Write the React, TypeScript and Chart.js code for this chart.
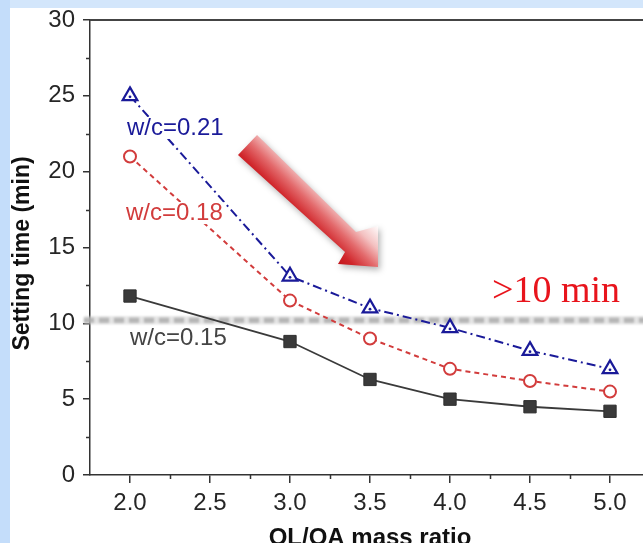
import React, { useEffect, useRef } from 'react';
import { Chart, registerables } from 'chart.js';

Chart.register(...registerables);

// OL/OA mass ratio (x) against setting time in minutes (y)
const massRatio = [2.0, 3.0, 3.5, 4.0, 4.5, 5.0];
const settingWc021 = [25.0, 13.1, 11.0, 9.7, 8.2, 7.0];
const settingWc018 = [21.0, 11.5, 9.0, 7.0, 6.2, 5.5];
const settingWc015 = [11.8, 8.8, 6.3, 5.0, 4.5, 4.2];
const seriesNames = ['w/c=0.21', 'w/c=0.18', 'w/c=0.15'];

const xTickValues = [2.0, 2.5, 3.0, 3.5, 4.0, 4.5, 5.0];
const yTickValues = [0, 5, 10, 15, 20, 25, 30];
const xMinorTicks = [2.25, 2.75, 3.25, 3.75, 4.25, 4.75];
const yMinorTicks = [2.5, 7.5, 12.5, 17.5, 22.5, 27.5];

const thresholdMinutes = 10.2;
const thresholdLabel = '>10 min';
const xAxisTitle = 'OL/OA mass ratio';
const yAxisTitle = 'Setting time (min)';

// Where the in-plot annotations sit, in axis units
const seriesLabelAnchors = [
  { x: 1.981, y: 22.88 },
  { x: 1.975, y: 17.27 },
  { x: 2.0, y: 9.03 },
];
const thresholdLabelAnchor = { x: 4.2625, y: 11.41 };
const trendArrow: [number, number][] = [
  [2.794, 22.42],
  [3.4125, 16.02],
  [3.55, 16.42],
  [3.55, 13.71],
  [3.3, 13.91],
  [3.344, 14.7],
  [2.675, 21.1],
];

const SANS = '"Liberation Sans", Arial, Helvetica, sans-serif';
const SERIF = '"Liberation Serif", "Times New Roman", serif';
const NAVY = '#1a1a99';
const RED = '#d23c3c';
const DARK = '#3a3a3a';

const CANVAS_W = 640;
const CANVAS_H = 560;
const PLOT_BOTTOM = 467;

const decorPlugin = {
  id: 'decor',
  beforeDraw(chart: any) {
    const ctx = chart.ctx;
    ctx.save();
    ctx.fillStyle = '#ffffff';
    ctx.fillRect(0, 0, chart.width, chart.height);
    ctx.restore();
  },
  beforeDatasetsDraw(chart: any) {
    const ctx = chart.ctx;
    const area = chart.chartArea;
    const xs = chart.scales.x;
    const ys = chart.scales.y;
    ctx.save();
    // minor ticks
    ctx.strokeStyle = '#333';
    ctx.lineWidth = 1.5;
    ctx.beginPath();
    xMinorTicks.forEach((v) => {
      const p = Math.round(xs.getPixelForValue(v)) + 0.5;
      ctx.moveTo(p, area.bottom);
      ctx.lineTo(p, area.bottom + 4);
    });
    yMinorTicks.forEach((v) => {
      const p = Math.round(ys.getPixelForValue(v)) + 0.5;
      ctx.moveTo(area.left - 4, p);
      ctx.lineTo(area.left, p);
    });
    ctx.stroke();
    // top frame line
    ctx.strokeStyle = '#444';
    ctx.lineWidth = 2;
    ctx.beginPath();
    ctx.moveTo(area.left, area.top);
    ctx.lineTo(chart.width, area.top);
    ctx.stroke();
    ctx.restore();

    // soft grey threshold band
    const yT = ys.getPixelForValue(thresholdMinutes);
    ctx.save();
    ctx.filter = 'blur(1.2px)';
    ctx.strokeStyle = 'rgba(210,210,210,0.6)';
    ctx.lineWidth = 8;
    ctx.beginPath();
    ctx.moveTo(area.left - 6, yT);
    ctx.lineTo(chart.width, yT);
    ctx.stroke();
    ctx.setLineDash([10, 5]);
    ctx.strokeStyle = 'rgba(172,172,172,0.85)';
    ctx.lineWidth = 5;
    ctx.beginPath();
    ctx.moveTo(area.left - 6, yT);
    ctx.lineTo(chart.width, yT);
    ctx.stroke();
    ctx.restore();
  },
  afterDatasetsDraw(chart: any) {
    const ctx = chart.ctx;
    const area = chart.chartArea;
    const xs = chart.scales.x;
    const ys = chart.scales.y;
    const toPx = (x: number, y: number): [number, number] => [xs.getPixelForValue(x), ys.getPixelForValue(y)];

    // centre dots inside the triangles
    ctx.save();
    ctx.fillStyle = NAVY;
    chart.getDatasetMeta(0).data.forEach((el: any) => {
      ctx.beginPath();
      ctx.arc(el.x, el.y + 1, 1.4, 0, Math.PI * 2);
      ctx.fill();
    });
    ctx.restore();

    // series labels
    const labelColors = [NAVY, RED, '#444'];
    ctx.save();
    ctx.font = `24px ${SANS}`;
    ctx.textBaseline = 'middle';
    ctx.textAlign = 'left';
    seriesNames.forEach((name, i) => {
      const [lx, ly] = toPx(seriesLabelAnchors[i].x, seriesLabelAnchors[i].y);
      const w = ctx.measureText(name).width;
      if (i < 2) {
        ctx.fillStyle = '#ffffff';
        ctx.fillRect(lx - 2, ly - 11, w + 3, 22);
      }
      ctx.fillStyle = labelColors[i];
      ctx.fillText(name, lx, ly);
    });
    ctx.restore();

    // threshold caption
    ctx.save();
    const [tx, ty] = toPx(thresholdLabelAnchor.x, thresholdLabelAnchor.y);
    ctx.font = `38px ${SERIF}`;
    ctx.fillStyle = '#e8141c';
    ctx.textBaseline = 'alphabetic';
    ctx.textAlign = 'left';
    ctx.fillText(thresholdLabel, tx, ty);
    ctx.restore();

    // downward trend arrow
    const pts = trendArrow.map(([x, y]) => toPx(x, y));
    const dx = pts[1][0] - pts[0][0];
    const dy = pts[1][1] - pts[0][1];
    const len = Math.hypot(dx, dy);
    const nx = dy / len;
    const ny = -dx / len;
    const base = pts[6];
    const grad = ctx.createLinearGradient(base[0] - nx * 9, base[1] - ny * 9, base[0] + nx * 48, base[1] + ny * 48);
    grad.addColorStop(0, '#c0141a');
    grad.addColorStop(0.2, '#d0262b');
    grad.addColorStop(0.45, '#e36a6c');
    grad.addColorStop(0.7, '#f4c2c2');
    grad.addColorStop(1, '#ffffff');
    ctx.save();
    ctx.shadowColor = 'rgba(0,0,0,0.3)';
    ctx.shadowBlur = 6;
    ctx.shadowOffsetX = 2;
    ctx.shadowOffsetY = 3;
    ctx.fillStyle = grad;
    ctx.beginPath();
    pts.forEach(([x, y], i) => (i === 0 ? ctx.moveTo(x, y) : ctx.lineTo(x, y)));
    ctx.closePath();
    ctx.fill();
    ctx.restore();

    // axis titles
    ctx.save();
    ctx.fillStyle = '#111';
    ctx.font = `bold 24px ${SANS}`;
    ctx.textAlign = 'center';
    ctx.textBaseline = 'alphabetic';
    ctx.fillText(xAxisTitle, (area.left + area.right) / 2, 537);
    ctx.translate(18.5, (area.top + area.bottom) / 2 + 6);
    ctx.rotate(-Math.PI / 2);
    ctx.font = `bold 23px ${SANS}`;
    ctx.fillText(yAxisTitle, 0, 0);
    ctx.restore();
  },
};

export default function App() {
  const canvasRef = useRef<HTMLCanvasElement | null>(null);

  useEffect(() => {
    if (!canvasRef.current) return;
    const toPoints = (ys: number[]) => massRatio.map((x, i) => ({ x, y: ys[i] }));
    const chart = new Chart(canvasRef.current, {
      type: 'line',
      data: {
        datasets: [
          {
            label: seriesNames[0],
            data: toPoints(settingWc021),
            borderColor: NAVY,
            borderWidth: 2,
            borderDash: [9, 4, 2, 4],
            pointStyle: 'triangle',
            pointRadius: 8.5,
            pointBorderWidth: 2.2,
            pointBorderColor: NAVY,
            pointBackgroundColor: '#ffffff',
            tension: 0,
          },
          {
            label: seriesNames[1],
            data: toPoints(settingWc018),
            borderColor: RED,
            borderWidth: 2,
            borderDash: [5, 4],
            pointStyle: 'circle',
            pointRadius: 6,
            pointBorderWidth: 2,
            pointBorderColor: RED,
            pointBackgroundColor: '#ffffff',
            tension: 0,
          },
          {
            label: seriesNames[2],
            data: toPoints(settingWc015),
            borderColor: DARK,
            borderWidth: 1.8,
            pointStyle: 'rect',
            pointRadius: 8.7,
            pointBorderWidth: 1,
            pointBorderColor: '#2e2e2e',
            pointBackgroundColor: DARK,
            tension: 0,
          },
        ],
      },
      options: {
        responsive: false,
        animation: false,
        devicePixelRatio: 1,
        layout: { autoPadding: false, padding: { top: 12, right: 0, bottom: 0, left: 0 } },
        plugins: {
          legend: { display: false },
          tooltip: { enabled: false },
        },
        scales: {
          x: {
            type: 'linear',
            min: 1.75,
            max: 5.25,
            afterBuildTicks: (s: any) => {
              s.ticks = xTickValues.map((v) => ({ value: v }));
            },
            afterFit: (s: any) => {
              s.height = CANVAS_H - PLOT_BOTTOM;
              s.paddingLeft = 0;
              s.paddingRight = 0;
            },
            grid: { drawOnChartArea: false, drawTicks: true, tickLength: 8, color: '#333', lineWidth: 1.5 },
            border: { display: true, color: '#333', width: 1.5 },
            ticks: {
              autoSkip: false,
              maxRotation: 0,
              padding: 8,
              color: '#262626',
              font: { family: SANS, size: 24, lineHeight: 1 },
              callback: (v: any) => Number(v).toFixed(1),
            },
          },
          y: {
            type: 'linear',
            min: 0,
            max: 30,
            afterBuildTicks: (s: any) => {
              s.ticks = yTickValues.map((v) => ({ value: v }));
            },
            afterFit: (s: any) => {
              s.width = 80;
              s.paddingTop = 0;
              s.paddingBottom = 0;
            },
            grid: { drawOnChartArea: false, drawTicks: true, tickLength: 7, color: '#333', lineWidth: 1.5 },
            border: { display: true, color: '#333', width: 1.5 },
            ticks: {
              padding: 8,
              color: '#262626',
              font: { family: SANS, size: 24, lineHeight: 1 },
              callback: (v: any) => String(v),
            },
          },
        },
      },
      plugins: [decorPlugin],
    } as any);
    return () => chart.destroy();
  }, []);

  return (
    <div style={{ position: 'fixed', inset: 0, overflow: 'hidden', background: '#d3e6fb' }}>
      <div style={{ position: 'absolute', left: 0, top: 0, bottom: 0, width: 10, background: '#c4ddfa' }} />
      <canvas
        ref={canvasRef}
        width={CANVAS_W}
        height={CANVAS_H}
        style={{ position: 'absolute', left: 10, top: 8, width: CANVAS_W, height: CANVAS_H }}
      />
    </div>
  );
}
